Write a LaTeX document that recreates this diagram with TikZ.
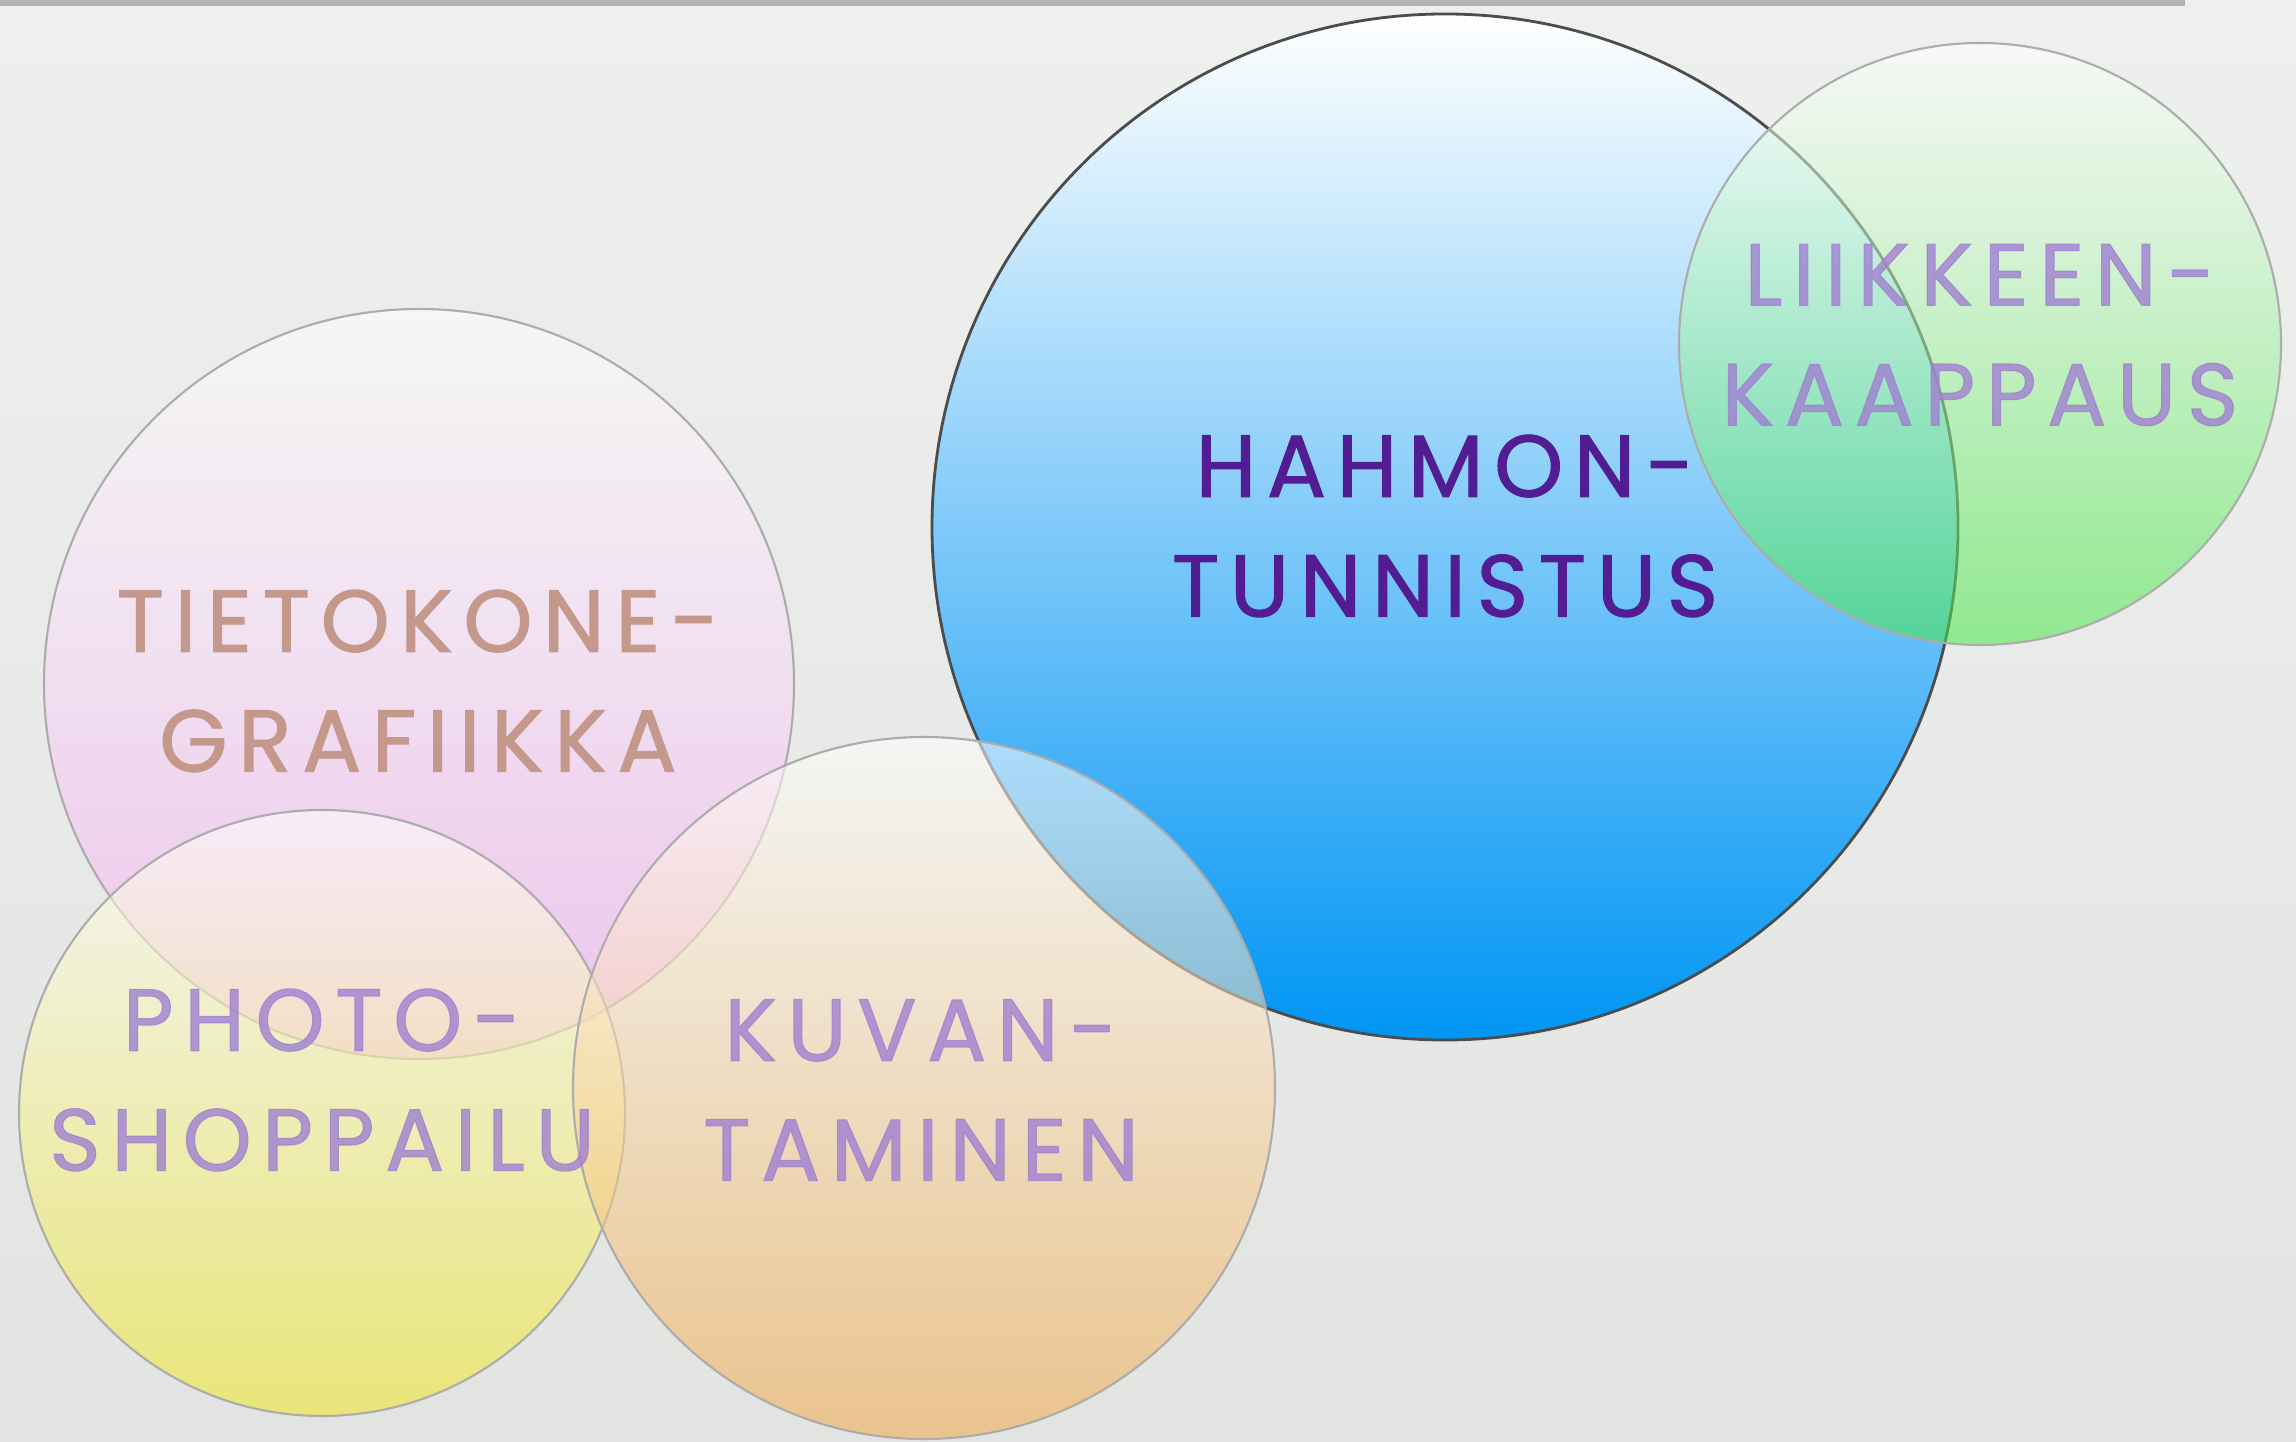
\documentclass[tikz,border=0pt]{standalone}
\usepackage{fontspec}
\setmainfont{Poppins}
\newfontfamily\bubblefont{Poppins}[LetterSpace=12, FakeBold=1.2]
\usetikzlibrary{positioning}
\definecolor{bgtop}{HTML}{EEF0ED}
\definecolor{bgbot}{HTML}{E1E4E0}
\definecolor{bluebot}{HTML}{0095F4}
\definecolor{greenbot}{HTML}{49E74A}
\definecolor{pinkbot}{HTML}{F4A8F4}
\definecolor{yellowbot}{HTML}{F0E725}
\definecolor{orangebot}{HTML}{F3A94A}
\definecolor{darkpurple}{HTML}{521C92}
\definecolor{dustyrose}{HTML}{C4988A}
\definecolor{lavender}{HTML}{A080D0}
\tikzset{
  bubble/.style={circle, draw=gray!65, line width=0.6pt, inner sep=0pt, top color=white, fill opacity=0.55},
  mainbubble/.style={circle, draw=black!70, line width=0.8pt, inner sep=0pt, top color=white, bottom color=bluebot},
  bubbletext/.style={align=center, font=\bubblefont\fontsize{25}{34.1}\selectfont, text=lavender, text opacity=0.8}
}
\begin{document}
\begin{tikzpicture}
  % background
  \shade[top color=bgtop, bottom color=bgbot] (0,0) rectangle (22.96,14.41);
  \fill[gray!60] (0,14.35) rectangle (21.85,14.41);
  \useasboundingbox (0,0) rectangle (22.96,14.41);
  % circles
  \node[mainbubble, minimum size=10.26cm] (hahmoc) at (14.45,9.14) {};
  \node[bubble, minimum size=6.02cm, bottom color=greenbot] (liikec) at (19.80,10.97) {};
  \node[bubble, minimum size=7.50cm, bottom color=pinkbot] (grafc) at (4.19,7.57) {};
  \node[bubble, minimum size=6.06cm, bottom color=yellowbot] (photoc) at (3.22,3.28) {};
  \node[bubble, minimum size=7.02cm, bottom color=orangebot] (kuvac) at (9.24,3.53) {};
  % texts
  \node[bubbletext, text=darkpurple, text opacity=1] (hahmo) at (14.45,9.15) {HAHMON-\\TUNNISTUS};
  \node[bubbletext] (liike) at (19.80,11.06) {LIIKKEEN-\\KAAPPAUS};
  \node[bubbletext, text=dustyrose, text opacity=1] (graf) at (4.18,7.60) {TIETOKONE-\\GRAFIIKKA};
  \node[bubbletext] (photo) at (3.22,3.61) {PHOTO-\\SHOPPAILU};
  \node[bubbletext] (kuva) at (9.21,3.51) {KUVAN-\\TAMINEN};
\end{tikzpicture}
\end{document}
